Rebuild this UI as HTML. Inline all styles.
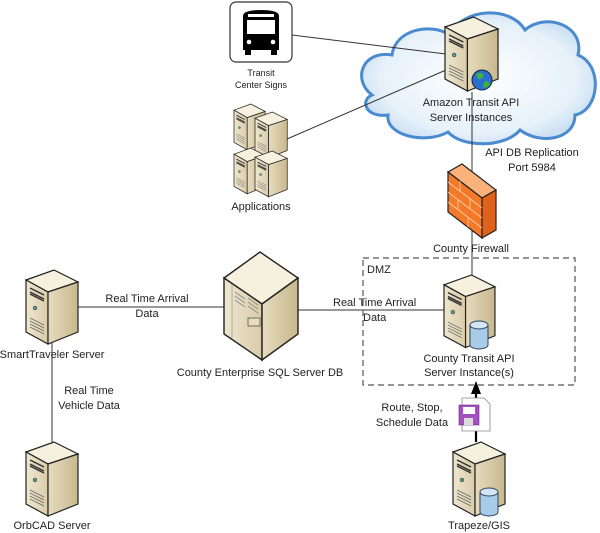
<!DOCTYPE html>
<html><head><meta charset="utf-8"><style>
html,body{margin:0;padding:0;background:#fff}
svg{display:block}
text{font-family:"Liberation Sans",sans-serif;font-size:11px;fill:#222}
</style></head><body>
<svg width="600" height="533" viewBox="0 0 600 533" xmlns="http://www.w3.org/2000/svg">
<defs>
<linearGradient id="lf" x1="0" x2="1"><stop offset="0" stop-color="#efe6cf"/><stop offset="1" stop-color="#d9ccaa"/></linearGradient>
<linearGradient id="rf" x1="0" x2="1"><stop offset="0" stop-color="#e6dbbd"/><stop offset="1" stop-color="#c8b88f"/></linearGradient>
<radialGradient id="cl" cx="0.5" cy="0.5" r="0.6"><stop offset="0" stop-color="#ffffff"/><stop offset="0.7" stop-color="#e6f1fa"/><stop offset="1" stop-color="#bcd6ee"/></radialGradient>
<g id="srv">
<polygon points="0,10 28,0 52,12 22,22" fill="#f6f0de" stroke="#222" stroke-width="1.2"/>
<polygon points="0,10 22,22 22,74 0,62" fill="url(#lf)" stroke="#222" stroke-width="1.2"/>
<polygon points="22,22 52,12 52,62 22,74" fill="url(#rf)" stroke="#222" stroke-width="1.2"/>
<path d="M4,18 L18,25 M4,22 L18,29 M4,24 L18,31" stroke="#333" stroke-width="1.5"/>
<circle cx="9" cy="38" r="1.8" fill="#5a9" stroke="#333" stroke-width="0.6"/>
<path d="M4,48 L18,55 M4,51 L18,58 M4,54 L18,61 M4,57 L18,64" stroke="#666" stroke-width="0.7"/>
</g>
<g id="db">
<path d="M-9,-10 L-9,10 A9,4 0 0 0 9,10 L9,-10" fill="#a9cbea" stroke="#345" stroke-width="1"/>
<ellipse cx="0" cy="-10" rx="9" ry="4" fill="#d3e6f7" stroke="#345" stroke-width="1"/>
</g>
</defs>

<!-- cloud -->
<path d="M372,95 C352,80 362,50 392,55 C395,30 430,22 450,35 C462,8 510,5 525,30 C545,12 585,25 578,55 C603,65 600,110 575,115 C575,140 540,145 520,130 C505,148 462,148 448,132 C425,145 385,135 388,115 C365,118 360,100 372,95 Z" fill="url(#cl)" stroke="#4a8bd0" stroke-width="3"/>

<!-- connectors -->
<g stroke="#333" stroke-width="1" fill="none">
<line x1="292" y1="35" x2="446" y2="54"/>
<line x1="287" y1="139" x2="446" y2="70"/>
<line x1="472" y1="92" x2="472" y2="276"/>
<line x1="78" y1="307" x2="224" y2="307"/>
<line x1="298" y1="310" x2="444" y2="310"/>
<line x1="52" y1="343" x2="52" y2="443"/>
</g>
<rect x="363" y="258" width="212" height="127" fill="none" stroke="#555" stroke-width="1.2" stroke-dasharray="6,4"/>

<!-- bus -->
<rect x="230" y="2" width="62" height="60" rx="6" fill="#fff" stroke="#333" stroke-width="1.2"/>
<path d="M243,16 Q243,10 261,10 Q279,10 279,16 L279,50 L243,50 Z" fill="#000"/>
<rect x="248" y="14" width="26" height="3" fill="#fff"/>
<rect x="247" y="20" width="28" height="14" fill="#fff"/>
<circle cx="249" cy="42" r="2.3" fill="#fff"/><circle cx="273" cy="42" r="2.3" fill="#fff"/>
<rect x="245" y="49" width="6" height="6" fill="#000"/><rect x="271" y="49" width="6" height="6" fill="#000"/>
<text x="261" y="76" text-anchor="middle" font-size="9" style="font-size:9px">Transit</text>
<text x="261" y="88" text-anchor="middle" style="font-size:9px">Center Signs</text>

<!-- amazon server -->
<use href="#srv" transform="translate(445,17) scale(1.02,1)"/>
<circle cx="482" cy="80" r="10" fill="#2a6fd0" stroke="#123" stroke-width="1"/>
<path d="M476,74 Q480,71 484,75 Q482,80 478,79 Z M484,82 Q489,80 490,85 Q486,89 483,87 Z" fill="#3bb33b"/>
<text x="471" y="106" text-anchor="middle">Amazon Transit API</text>
<text x="471" y="121" text-anchor="middle">Server Instances</text>

<!-- applications -->
<use href="#srv" transform="translate(234,104) scale(0.6,0.62)"/>
<use href="#srv" transform="translate(255,112) scale(0.62,0.62)"/>
<use href="#srv" transform="translate(234,148) scale(0.6,0.62)"/>
<use href="#srv" transform="translate(255,151) scale(0.62,0.62)"/>
<text x="261" y="210" text-anchor="middle">Applications</text>

<!-- firewall -->
<polygon points="448,172 462,164 496,190 482,198" fill="#fbb27a" stroke="#222" stroke-width="1.2"/>
<polygon points="448,172 482,198 482,238 448,212" fill="#f47a2a" stroke="#222" stroke-width="1.2"/>
<polygon points="482,198 496,190 496,230 482,238" fill="#e0621a" stroke="#222" stroke-width="1.2"/>
<g stroke="#fcd0a8" stroke-width="0.8">
<line x1="448" y1="182" x2="482" y2="208"/><line x1="448" y1="192" x2="482" y2="218"/><line x1="448" y1="202" x2="482" y2="228"/>
<line x1="460" y1="181" x2="460" y2="191"/><line x1="470" y1="198" x2="470" y2="208"/><line x1="458" y1="200" x2="458" y2="210"/><line x1="468" y1="217" x2="468" y2="227"/>
</g>
<text x="532" y="156" text-anchor="middle">API DB Replication</text>
<text x="532" y="171" text-anchor="middle">Port 5984</text>
<text x="471" y="252" text-anchor="middle">County Firewall</text>
<text x="367" y="273">DMZ</text>

<!-- county server -->
<use href="#srv" transform="translate(444,275) scale(0.98,0.98)"/>
<use href="#db" transform="translate(479,335)"/>
<text x="469" y="362" text-anchor="middle">County Transit API</text>
<text x="469" y="376" text-anchor="middle">Server Instance(s)</text>

<!-- SQL server -->
<polygon points="224,278 260,252 298,278 262,304" fill="#f6f0de" stroke="#222" stroke-width="1.4"/>
<polygon points="224,278 262,304 262,360 224,334" fill="url(#lf)" stroke="#222" stroke-width="1.4"/>
<polygon points="262,304 298,278 298,334 262,360" fill="url(#rf)" stroke="#222" stroke-width="1.4"/>
<line x1="232" y1="284" x2="232" y2="338" stroke="#999" stroke-width="0.8"/>
<path d="M235,292 L245,299 M235,296 L245,303 M235,300 L245,307 M248,298 L258,305 M248,302 L258,309 M248,306 L258,313" stroke="#888" stroke-width="0.8"/>
<rect x="248" y="318" width="12" height="8" fill="#e8dcc0" stroke="#444" stroke-width="0.7"/>
<text x="147" y="302" text-anchor="middle">Real Time Arrival</text>
<text x="147" y="317" text-anchor="middle">Data</text>
<text x="333" y="306" fill="#222">Real Time Arrival</text>
<text x="363" y="321">Data</text>
<text x="260" y="376" text-anchor="middle">County Enterprise SQL Server DB</text>

<!-- smarttraveler / orbcad -->
<use href="#srv" transform="translate(26,270)"/>
<text x="52" y="358" text-anchor="middle">SmartTraveler Server</text>
<text x="89" y="394" text-anchor="middle">Real Time</text>
<text x="89" y="409" text-anchor="middle">Vehicle Data</text>
<use href="#srv" transform="translate(26,442)"/>
<text x="52" y="529" text-anchor="middle">OrbCAD Server</text>

<!-- trapeze -->
<use href="#srv" transform="translate(453,442)"/>
<use href="#db" transform="translate(489,502)"/>
<text x="479" y="529" text-anchor="middle">Trapeze/GIS</text>
<line x1="476" y1="442" x2="476" y2="394" stroke="#000" stroke-width="2.2"/>
<polygon points="476,381 471,394 481,394" fill="#000"/>
<polygon points="462,398 484,398 490,404 490,431 462,431" fill="#fff" stroke="#888" stroke-width="0.8"/>
<rect x="459" y="405" width="20" height="20" fill="#a34fc0" stroke="#6a2a80" stroke-width="0.6"/>
<rect x="463" y="407" width="12" height="7" fill="#fff"/>
<rect x="464" y="418" width="9" height="7" fill="#ddd"/>
<text x="412" y="411" text-anchor="middle">Route, Stop,</text>
<text x="412" y="426" text-anchor="middle">Schedule Data</text>
</svg>
</body></html>
